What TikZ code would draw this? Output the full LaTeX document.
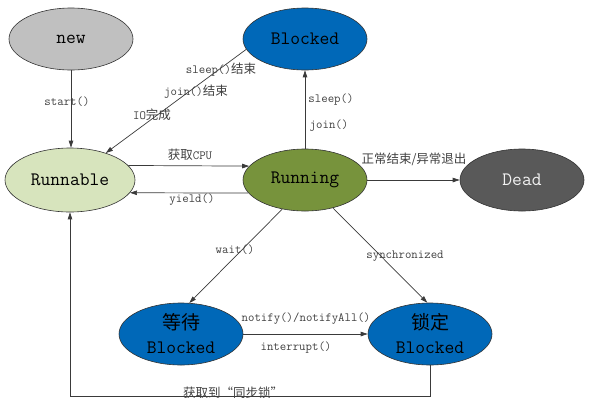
\documentclass[tikz,border=0pt]{standalone}
\usepackage{fontspec}
\newfontfamily\cjk{Noto Sans CJK SC}
\usetikzlibrary{shapes.geometric,arrows.meta}
\definecolor{newgray}{HTML}{C0C0C0}
\definecolor{blockblue}{HTML}{0068B8}
\definecolor{runnablegreen}{HTML}{D7E4BD}
\definecolor{runninggreen}{HTML}{77933C}
\definecolor{deadgray}{HTML}{595959}
\definecolor{labelgray}{HTML}{404040}
\definecolor{linegray}{HTML}{3A3A3A}
\begin{document}
\begin{tikzpicture}[x=1pt,y=-1pt,
  state/.style={ellipse, draw=black!80, line width=0.6pt, minimum width=124pt, minimum height=62pt, inner sep=0pt, align=center, font=\fontsize{19}{24}\selectfont\ttfamily},
  lbl/.style={text=labelgray, font=\fontsize{12.5}{15}\selectfont\ttfamily, inner sep=1pt},
  arr/.style={draw=linegray, line width=0.7pt, -{Triangle[length=7pt,width=4.5pt]}}
]
\useasboundingbox (0,0) rectangle (596,405);
\node[state, fill=newgray] (new) at (71,39) {new};
\node[state, fill=blockblue] (blocked) at (305,39) {Blocked};
\node[state, fill=runnablegreen, minimum width=130pt, minimum height=64pt] (runnable) at (70,180) {Runnable};
\node[state, fill=runninggreen] (running) at (305,180) {Running};
\node[state, fill=deadgray, text=white!95!black] (dead) at (522,180) {Dead};
\node[state, fill=blockblue] (wait) at (181,334) {{\cjk 等待}\\Blocked};
\node[state, fill=blockblue] (lock) at (430,334) {{\cjk 锁定}\\Blocked};

% connectors
\draw[arr] (new.south) -- (new.south |- runnable.north);
\draw[arr] (blocked.190) -- (runnable.37);
\draw[arr] (runnable.14) -- (running.166);
\draw[arr] (running.193) -- (runnable.348);
\draw[arr] (running) -- (blocked);
\draw[arr] (running) -- (dead);
\draw[arr] (running.232) -- (wait.75);
\draw[arr] (running.315) -- (lock.95);
\draw[arr] (wait) -- (lock);
\draw[arr] (lock.south) -- ++(0,31) -| (runnable.south);

% labels
\node[lbl] (l1) at (67,102) {start()};
\node[lbl] (l2) at (221,70) {sleep(){\cjk 结束}};
\node[lbl] (l3) at (196,92) {join(){\cjk 结束}};
\node[lbl] (l4) at (152,115) {IO{\cjk 完成}};
\node[lbl] (l5) at (190,155) {{\cjk 获取}CPU};
\node[lbl] (l6) at (192,200) {yield()};
\node[lbl] (l7) at (331,100) {sleep()};
\node[lbl] (l8) at (329,126) {join()};
\node[lbl] (l9) at (414,159) {\cjk 正常结束/异常退出};
\node[lbl] (l10) at (235,250) {wait()};
\node[lbl] (l11) at (405,256) {synchronized};
\node[lbl] (l12) at (306,319) {notify()/notifyAll()};
\node[lbl] (l13) at (296,348) {interrupt()};
\node[lbl] (l14) at (233,393) {\cjk 获取到“同步锁”};
\end{tikzpicture}
\end{document}
